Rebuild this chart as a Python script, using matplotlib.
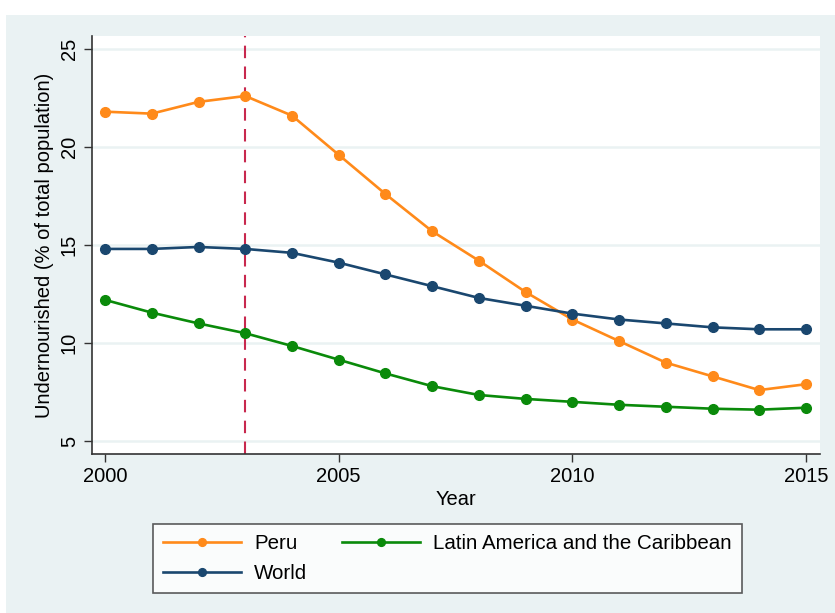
import matplotlib.pyplot as plt
from matplotlib.patches import Rectangle

# data
years = list(range(2000, 2016))
peru = [21.8, 21.7, 22.3, 22.6, 21.6, 19.6, 17.6, 15.7, 14.2, 12.6, 11.2, 10.1, 9.0, 8.3, 7.6, 7.9]
world = [14.8, 14.8, 14.9, 14.8, 14.6, 14.1, 13.5, 12.9, 12.3, 11.9, 11.5, 11.2, 11.0, 10.8, 10.7, 10.7]
lac = [12.2, 11.55, 11.0, 10.5, 9.85, 9.15, 8.45, 7.8, 7.35, 7.15, 7.0, 6.85, 6.75, 6.65, 6.6, 6.7]
xticks = [2000, 2005, 2010, 2015]
yticks = [5, 10, 15, 20, 25]
event_year = 2003

plt.rcParams['font.family'] = ['Liberation Sans', 'DejaVu Sans']

bg = '#EAF2F3'
fig = plt.figure(figsize=(8.35, 6.13), dpi=100, facecolor='white')
fig.patches.append(Rectangle((6 / 835, 0), 1, 1 - 15 / 613, transform=fig.transFigure,
                             facecolor=bg, edgecolor='none', zorder=-10))

ax = fig.add_axes([92 / 835, 1 - 454 / 613, (820 - 92) / 835, (454 - 36) / 613])
ax.set_facecolor('white')

for y in yticks:
    ax.axhline(y, color=bg, lw=1.8, zorder=0)

ax.axvline(event_year, color='#C8284E', lw=1.5, ls=(0, (6, 4)), zorder=1)

kw = dict(lw=1.9, marker='o', ms=7, zorder=3)
l1, = ax.plot(years, peru, color='#FF8A1A', label='Peru', **kw)
l3, = ax.plot(years, world, color='#1A476F', label='World', **kw)
l2, = ax.plot(years, lac, color='#0A8A0A', label='Latin America and the Caribbean', **kw)

ax.set_xlim(1999.72, 2015.3)
ax.set_ylim(4.34, 25.66)
ax.set_xticks(xticks)
ax.set_yticks(yticks)
ax.tick_params(axis='both', labelsize=14.5, length=6, width=1, color='#333333', direction='out')
for lab in ax.get_yticklabels():
    lab.set_rotation(90)
    lab.set_va('center')
for s in ['top', 'right']:
    ax.spines[s].set_visible(False)
for s in ['left', 'bottom']:
    ax.spines[s].set_color('#333333')
    ax.spines[s].set_linewidth(1.2)

ax.set_xlabel('Year', fontsize=14.5, labelpad=3)
ax.set_ylabel('Undernourished (% of total population)', fontsize=14.5, labelpad=4)

leg = fig.legend(handles=[l1, l3, l2], loc='upper left', ncol=2,
                 bbox_to_anchor=(153 / 835, 1 - 524 / 613), borderaxespad=0,
                 fontsize=14.8, frameon=True, fancybox=False,
                 edgecolor='#333333', handlelength=3.8, handletextpad=0.63,
                 markerscale=0.8, borderpad=0.48, labelspacing=0.55,
                 columnspacing=1.7)
leg.get_frame().set_linewidth(1.2)

fig.savefig('out.png', dpi=100, facecolor='white')
